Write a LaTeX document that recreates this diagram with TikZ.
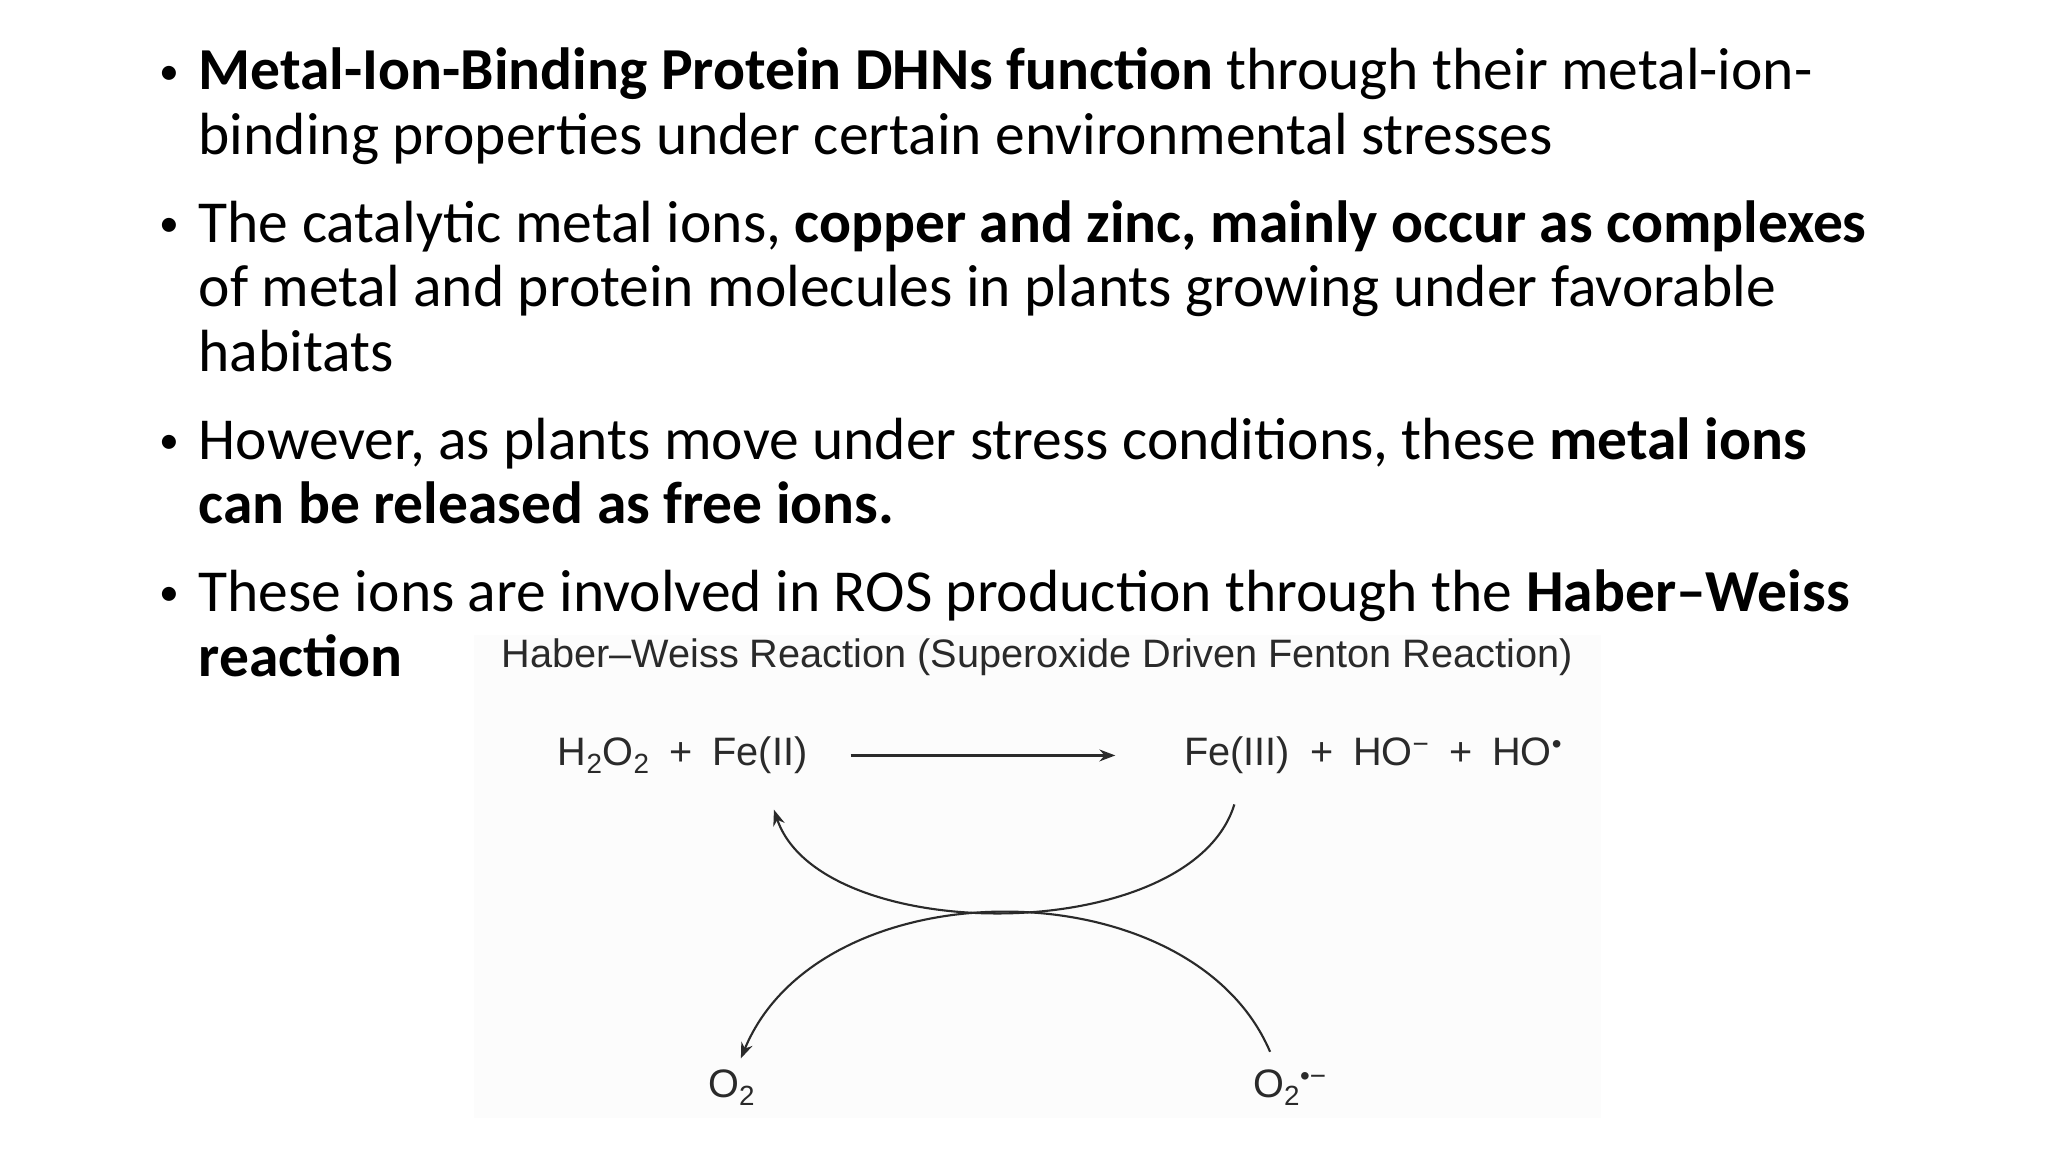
\documentclass[tikz,border=0pt]{standalone}
\usepackage{fontspec}
\setmainfont{Carlito}
\newfontfamily\arial{Liberation Sans}
\definecolor{dg}{HTML}{2A2A2A}
\usetikzlibrary{arrows.meta}
\begin{document}
\begin{tikzpicture}[x=1pt,y=-1pt,
  body/.style={anchor=base west,inner sep=0pt,font=\fontsize{45}{54}\selectfont},
  bul/.style={anchor=base,inner sep=0pt,font=\fontsize{30}{36}\selectfont},
  rx/.style={inner sep=0pt,text=dg,font=\arial\fontsize{30}{34}\selectfont},
  arr/.style={dg,line width=1.6pt,-{Stealth[length=12pt,width=9pt]}}]
\useasboundingbox (0,0) rectangle (1548,871);
\fill[white] (0,0) rectangle (1548,871);
\fill[black!1] (358,480) rectangle (1210,845);
\node[bul] (b1) at (128,64) {•};
\node[body] (l1) at (150,68) {\textbf{Metal-Ion-Binding Protein DHNs function} through their metal-ion-};
\node[body] (l2) at (150,117) {binding properties under certain environmental stresses};
\node[bul] (b2) at (128,179) {•};
\node[body] (l3) at (150,183) {The catalytic metal ions, \textbf{copper and zinc, mainly occur as complexes}};
\node[body] (l4) at (150,232) {of metal and protein molecules in plants growing under favorable};
\node[body] (l5) at (150,281) {habitats};
\node[bul] (b3) at (128,343) {•};
\node[body] (l6) at (150,347) {However, as plants move under stress conditions, these \textbf{metal ions}};
\node[body] (l7) at (150,396) {\textbf{can be released as free ions.}};
\node[bul] (b4) at (128,458) {•};
\node[body] (l8) at (150,462) {These ions are involved in ROS production through the \textbf{Haber–Weiss}};
\node[body] (l9) at (150,511) {\textbf{reaction}};
\node[rx] (t) at (784,497) {Haber–Weiss Reaction (Superoxide Driven Fenton Reaction)};
\node[rx] (L) at (516,571) {H\textsubscript{2}O\textsubscript{2}\enspace+\enspace Fe(II)};
\node[rx] (R) at (1038,571) {Fe(III)\enspace+\enspace HO\textsuperscript{−}\enspace+\enspace HO\textsuperscript{•}};
\node[rx] (o1) at (553,822) {O\textsubscript{2}};
\node[rx] (o2) at (975,822) {O\textsubscript{2}\textsuperscript{•−}};
\coordinate (a1) at (643,571); \coordinate (a2) at (843,571);
\draw[arr] (a1) -- (a2);
\coordinate (c1) at (933,608); \coordinate (c2) at (585,612);
\draw[arr] (c1) .. controls (900,716) and (620,716) .. (c2);
\coordinate (d1) at (960,795); \coordinate (d2) at (560,800);
\draw[arr] (d1) .. controls (900,654) and (620,654) .. (d2);
\end{tikzpicture}
\end{document}
